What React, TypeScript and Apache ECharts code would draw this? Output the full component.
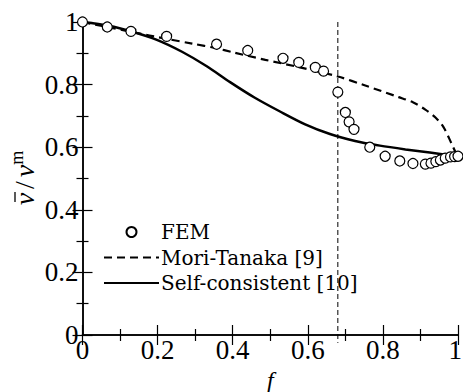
import React, { useEffect, useRef } from "react";
import * as echarts from "echarts";

const femF = [0, 0.066, 0.129, 0.224, 0.357, 0.44, 0.534, 0.576, 0.62, 0.642, 0.68, 0.7, 0.71, 0.723, 0.765, 0.806, 0.845, 0.88, 0.913, 0.928, 0.941, 0.953, 0.966, 0.98, 0.991, 1.0];
const femV = [1.0, 0.984, 0.97, 0.954, 0.929, 0.909, 0.884, 0.871, 0.855, 0.843, 0.776, 0.711, 0.681, 0.657, 0.6, 0.571, 0.556, 0.548, 0.546, 0.549, 0.554, 0.559, 0.565, 0.569, 0.57, 0.571];

const mtF = [0, 0.066, 0.132, 0.225, 0.292, 0.357, 0.398, 0.487, 0.576, 0.68, 0.753, 0.842, 0.881, 0.913, 0.94, 0.961, 0.983, 0.995, 1.0];
const mtV = [1.0, 0.984, 0.968, 0.946, 0.931, 0.916, 0.904, 0.879, 0.856, 0.826, 0.797, 0.76, 0.743, 0.72, 0.695, 0.665, 0.611, 0.58, 0.571];

const scF = [0, 0.07, 0.135, 0.198, 0.265, 0.332, 0.393, 0.459, 0.526, 0.593, 0.659, 0.726, 0.792, 0.86, 0.925, 1.0];
const scV = [1.0, 0.988, 0.968, 0.943, 0.905, 0.858, 0.808, 0.758, 0.714, 0.673, 0.642, 0.62, 0.605, 0.593, 0.583, 0.571];

const percF = [0.68, 0.68];
const percV = [1.0, -0.025];

const zip = (a: number[], b: number[]) => a.map((x, i) => [x, b[i]]);

const tickFont = "Liberation Serif";
const legendFont = "DejaVu Serif";

export default function App() {
  const ref = useRef<HTMLDivElement>(null);
  useEffect(() => {
    if (!ref.current) return;
    const chart = echarts.init(ref.current, undefined, { renderer: "svg" });
    const axisCommon = {
      type: "value" as const,
      min: 0,
      max: 1,
      interval: 0.2,
      axisLine: { show: true, lineStyle: { color: "#000", width: 1.5 } },
      axisTick: { show: true, inside: true, length: 10, lineStyle: { color: "#000", width: 1.2 } },
      minorTick: { show: true, splitNumber: 2, length: 6, lineStyle: { color: "#000", width: 1.2 } },
      splitLine: { show: false },
      minorSplitLine: { show: false },
    };
    chart.setOption({
      animation: false,
      backgroundColor: "#fff",
      textStyle: { fontFamily: tickFont },
      grid: { left: 82.5, right: 5, top: 22, bottom: 57, containLabel: false, outerBoundsMode: "none" },
      graphic: [
        {
          type: "group",
          x: 23,
          y: 178,
          rotation: Math.PI / 2,
          children: [
            {
              type: "text",
              x: 0,
              y: 0,
              style: {
                text: "{i|\u03bd}{n|/}{i|\u03bd}{s|m}",
                align: "center",
                verticalAlign: "middle",
                fill: "#000",
                rich: {
                  i: { fontFamily: tickFont, fontSize: 28, fontStyle: "italic", lineHeight: 30, verticalAlign: "bottom", fill: "#000" },
                  n: { fontFamily: tickFont, fontSize: 28, lineHeight: 30, verticalAlign: "bottom", fill: "#000", padding: [0, 4, 0, 4] },
                  s: { fontFamily: tickFont, fontSize: 18, lineHeight: 30, verticalAlign: "top", fill: "#000" },
                },
              },
            },
            {
              type: "line",
              shape: { x1: -24, y1: -8, x2: -14, y2: -8 },
              style: { stroke: "#000", lineWidth: 1.3 },
            },
          ],
        },
      ],
      xAxis: [
        {
          ...axisCommon,
          position: "bottom",
          axisLabel: {
            show: true,
            color: "#000",
            fontFamily: tickFont,
            fontSize: 27,
            margin: 1,
            alignMaxLabel: "right",
            formatter: (v: number) => (v === 1 ? "{e|1}" : String(v)),
            rich: { e: { fontFamily: tickFont, fontSize: 27, color: "#000", padding: [0, -4, 0, 0] } },
          },
          name: "f",
          nameLocation: "middle",
          nameGap: 33.5,
          nameTextStyle: { color: "#000", fontFamily: tickFont, fontSize: 24, fontStyle: "italic", lineHeight: 20 },
        },
        { ...axisCommon, position: "top", axisLabel: { show: false } },
      ],
      yAxis: [
        {
          ...axisCommon,
          position: "left",
          axisLabel: { show: true, color: "#000", fontFamily: tickFont, fontSize: 27, margin: 4 },
        },
        { ...axisCommon, position: "right", axisLabel: { show: false } },
      ],
      legend: {
        show: true,
        orient: "vertical",
        left: 98,
        top: 217,
        padding: 5,
        itemWidth: 55,
        itemHeight: 10,
        itemGap: 5.5,
        textStyle: { color: "#000", fontFamily: legendFont, fontSize: 20, padding: [0, 0, 0, -3] },
        data: [
          { name: "FEM" },
          { name: "Mori-Tanaka [9]", itemStyle: { opacity: 0 } },
          { name: "Self-consistent [10]", itemStyle: { opacity: 0 } },
        ],
      },
      series: [
        {
          name: "percolation",
          type: "line",
          data: zip(percF, percV),
          symbol: "none",
          clip: false,
          lineStyle: { color: "#000", width: 1, type: [5, 3] },
          z: 1,
        },
        {
          name: "Mori-Tanaka [9]",
          type: "line",
          data: zip(mtF, mtV),
          smooth: 0.3,
          symbol: "none",
          lineStyle: { color: "#000", width: 2.2, type: [8, 5] },
          itemStyle: { color: "#000" },
          z: 2,
        },
        {
          name: "Self-consistent [10]",
          type: "line",
          data: zip(scF, scV),
          smooth: 0.3,
          symbol: "none",
          lineStyle: { color: "#000", width: 2.5, type: "solid" },
          itemStyle: { color: "#000" },
          z: 2,
        },
        {
          name: "FEM",
          type: "scatter",
          data: zip(femF, femV),
          symbol: "circle",
          symbolSize: 10,
          clip: false,
          itemStyle: { color: "#fff", borderColor: "#000", borderWidth: 1.2, opacity: 1 },
          z: 5,
        },
      ],
    });
    return () => chart.dispose();
  }, []);
  return <div ref={ref} style={{ position: "fixed", left: 0, top: 0, width: 463, height: 392 }} />;
}
